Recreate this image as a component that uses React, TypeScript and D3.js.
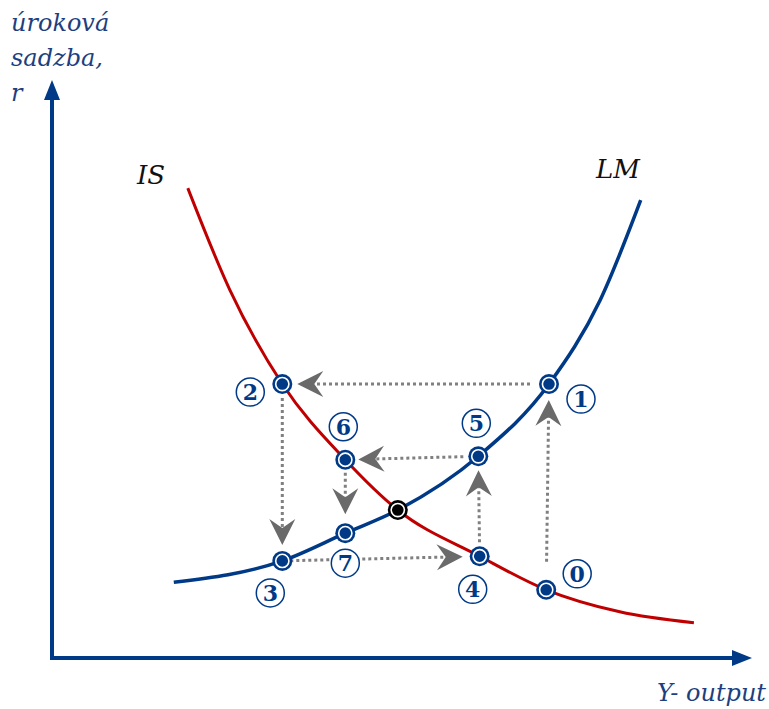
import React from "react";
import * as d3 from "d3";

// IS curve (output Y, interest r) in 0..100 units
const isY = [19.4, 25.4, 32.9, 41.9, 49.4, 61.1, 70.6, 81.1, 91.7];
const isR = [81.3, 63.7, 47.4, 34.3, 25.6, 17.6, 11.8, 8.0, 6.1];
// LM curve
const lmY = [17.4, 32.9, 41.9, 49.4, 60.9, 71.0, 78.3, 84.1];
const lmR = [13.1, 16.8, 21.6, 25.6, 34.9, 47.4, 61.9, 79.2];

// adjustment points 0..7 and the equilibrium
const ptLabels = ["0", "1", "2", "3", "4", "5", "6", "7"];
const ptY = [70.6, 71.0, 32.9, 32.9, 61.1, 60.9, 41.9, 41.9];
const ptR = [11.8, 47.4, 47.4, 16.8, 17.6, 34.9, 34.3, 21.6];
const eqY = 49.4;
const eqR = 25.6;

// arrows: from point index -> to point index
const arrowFrom = [0, 1, 2, 3, 4, 5, 6];
const arrowTo = [1, 2, 3, 4, 5, 6, 7];

const yAxisLabel = ["úroková", "sadzba,", "r"];
const xAxisLabel = "Y- output";
const curveLabels = ["IS", "LM"];

// layout (pixels)
const labelOffset: [number, number][] = [
  [31, -16], [32, 15], [-32, 8], [-12, 32], [-7, 33], [-2, -33], [-2, -33], [0, 30],
];
const arrowGaps: [number, number][] = [
  [28, 16], [19, 15], [14, 16], [8, 17], [14, 14], [15, 13], [13, 19],
];

const BLUE = "#003a87";
const TEXT_BLUE = "#1d3f80";
const RED = "#c00000";
const GREY_LINE = "#808080";
const GREY_HEAD = "#6a6a6a";

export default function App() {
  const W = 769;
  const H = 709;
  const x0 = 52, x1 = 752, yBottom = 658, yTop = 80;
  const x = d3.scaleLinear().domain([0, 100]).range([x0, x1]);
  const y = d3.scaleLinear().domain([0, 100]).range([yBottom, yTop]);

  const line = d3
    .line<[number, number]>()
    .x((d) => x(d[0]))
    .y((d) => y(d[1]))
    .curve(d3.curveMonotoneX);

  const isPath = line(isY.map((v, i) => [v, isR[i]]))!;
  const lmPath = line(lmY.map((v, i) => [v, lmR[i]]))!;

  const arrows = arrowFrom.map((f, i) => {
    const t = arrowTo[i];
    const ax = x(ptY[f]), ay = y(ptR[f]);
    const bx = x(ptY[t]), by = y(ptR[t]);
    const dx = bx - ax, dy = by - ay;
    const len = Math.hypot(dx, dy);
    const ux = dx / len, uy = dy / len;
    const [g0, g1] = arrowGaps[i];
    const sx = ax + ux * g0, sy = ay + uy * g0;
    const tx = bx - ux * g1, ty = by - uy * g1;
    const ex = tx - ux * 16, ey = ty - uy * 16;
    const ang = (Math.atan2(uy, ux) * 180) / Math.PI;
    return { sx, sy, tx, ty, ex, ey, ang };
  });

  const marker = (cx: number, cy: number, col: string, key: string) => (
    <g key={key}>
      <circle cx={cx} cy={cy} r={10} fill={col} />
      <circle cx={cx} cy={cy} r={6.6} fill="none" stroke="#fff" strokeWidth={1.6} />
    </g>
  );

  return (
    <svg
      width={W}
      height={H}
      style={{ position: "absolute", left: 0, top: 0, background: "#fff" }}
      fontFamily="'DejaVu Serif', serif"
    >
      {/* axes */}
      <line x1={x0} y1={yBottom + 2} x2={x0} y2={yTop + 16} stroke={BLUE} strokeWidth={4} />
      <line x1={x0 - 2} y1={yBottom} x2={x1 - 16} y2={yBottom} stroke={BLUE} strokeWidth={4} />
      <path d={`M${x0},${yTop} L${x0 - 8},${yTop + 20} L${x0 + 8},${yTop + 20} Z`} fill={BLUE} />
      <path d={`M${x1},${yBottom} L${x1 - 20},${yBottom - 8} L${x1 - 20},${yBottom + 8} Z`} fill={BLUE} />

      {/* axis labels */}
      {yAxisLabel.map((s, i) => (
        <text key={s} x={11} y={31 + i * 35} fontSize={24} fontStyle="italic" fill={TEXT_BLUE}>
          {s}
        </text>
      ))}
      <text x={766} y={701} fontSize={24} fontStyle="italic" fill={TEXT_BLUE} textAnchor="end">
        {xAxisLabel}
      </text>

      {/* curve labels */}
      <text x={137} y={184} fontSize={26} fontStyle="italic" fill="#111">{curveLabels[0]}</text>
      <text x={596} y={178} fontSize={26} fontStyle="italic" fill="#111">{curveLabels[1]}</text>

      {/* curves */}
      <path d={isPath} fill="none" stroke={RED} strokeWidth={3} />
      <path d={lmPath} fill="none" stroke={BLUE} strokeWidth={3.5} />

      {/* arrows */}
      {arrows.map((a, i) => (
        <g key={"a" + i}>
          <line x1={a.sx} y1={a.sy} x2={a.ex} y2={a.ey} stroke={GREY_LINE} strokeWidth={3} strokeDasharray="3 3" />
          <path
            d="M0,0 L-26,-13 L-17,0 L-26,13 Z"
            transform={`translate(${a.tx},${a.ty}) rotate(${a.ang})`}
            fill={GREY_HEAD}
          />
        </g>
      ))}

      {/* markers */}
      {ptLabels.map((l, i) => marker(x(ptY[i]), y(ptR[i]), BLUE, "m" + l))}
      {marker(x(eqY), y(eqR), "#000", "eq")}

      {/* circled labels */}
      {ptLabels.map((l, i) => {
        const cx = x(ptY[i]) + labelOffset[i][0];
        const cy = y(ptR[i]) + labelOffset[i][1];
        return (
          <g key={"l" + l}>
            <circle cx={cx} cy={cy} r={14} fill="#fff" stroke={BLUE} strokeWidth={1.5} />
            <text x={cx} y={cy + 8} fontSize={22} fontWeight="bold" fill={BLUE} textAnchor="middle">
              {l}
            </text>
          </g>
        );
      })}
    </svg>
  );
}
